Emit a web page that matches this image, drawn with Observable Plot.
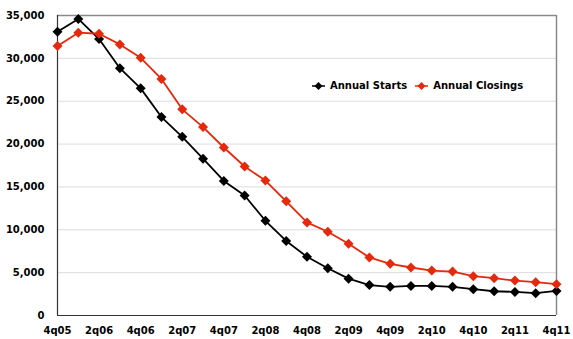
<!DOCTYPE html>
<html>
<head>
<meta charset="utf-8">
<script src="https://cdn.jsdelivr.net/npm/d3@7"></script>
<script src="https://cdn.jsdelivr.net/npm/@observablehq/plot@0.6"></script>
<style>
  html, body { margin: 0; padding: 0; background: #fff; }
  #wrap { position: relative; width: 573px; height: 339px; font-family: "DejaVu Sans", Verdana, sans-serif; }
  #legend { position: absolute; left: 312px; top: 80px; display: flex; align-items: center; font-size: 10px; font-weight: bold; color: #000; white-space: nowrap; }
  #legend .item { display: flex; align-items: center; }
  #legend svg { margin-right: 5px; }
</style>
</head>
<body>
<div id="wrap"></div>
<script>
// Quarter labels along the x axis
const quarters = [
  "4q05",
  "1q06", "2q06", "3q06", "4q06",
  "1q07", "2q07", "3q07", "4q07",
  "1q08", "2q08", "3q08", "4q08",
  "1q09", "2q09", "3q09", "4q09",
  "1q10", "2q10", "3q10", "4q10",
  "1q11", "2q11", "3q11", "4q11"
];

// Quarters that carry a tick label
const tickQuarters = ["4q05", "2q06", "4q06", "2q07", "4q07", "2q08", "4q08", "2q09", "4q09", "2q10", "4q10", "2q11", "4q11"];

// Annual starts, per quarter
const starts = [33100, 34600, 32250, 28850, 26500, 23150, 20850, 18300, 15700, 14000, 11050, 8700, 6850, 5520, 4300, 3550, 3350, 3450, 3450, 3350, 3070, 2830, 2750, 2600, 2870];

// Annual closings, per quarter
const closings = [31430, 33000, 32870, 31630, 30060, 27600, 24050, 21980, 19600, 17380, 15740, 13320, 10860, 9770, 8370, 6770, 6030, 5600, 5240, 5130, 4590, 4350, 4070, 3890, 3650];

const yTicks = [0, 5000, 10000, 15000, 20000, 25000, 30000, 35000];

const seriesNames = ["Annual Starts", "Annual Closings"];
const seriesColors = ["#000000", "#e5290c"];

const rows = [];
quarters.forEach((q, i) => {
  rows.push({ quarter: q, value: starts[i], series: seriesNames[0] });
  rows.push({ quarter: q, value: closings[i], series: seriesNames[1] });
});

const chart = Plot.plot({
  width: 573,
  height: 339,
  marginLeft: 57,
  marginRight: 17,
  marginTop: 15,
  marginBottom: 24,
  style: { fontFamily: "'DejaVu Sans', Verdana, sans-serif", fontSize: "10px", fontWeight: "bold", color: "#000", background: "#fff" },
  x: { type: "point", domain: quarters, padding: 0, round: false },
  y: { domain: [0, 35000] },
  color: { domain: seriesNames, range: seriesColors },
  marks: [
    Plot.gridY(yTicks.slice(1), { stroke: "#dcdcdc", strokeOpacity: 1, strokeWidth: 1 }),
    Plot.ruleY([35000], { stroke: "#8a8a8a", strokeWidth: 1.5 }),
    Plot.ruleX([quarters[quarters.length - 1]], { stroke: "#8a8a8a", strokeWidth: 1.5 }),
    Plot.ruleY([0], { stroke: "#333", strokeWidth: 1.2 }),
    Plot.ruleX([quarters[0]], { stroke: "#333", strokeWidth: 1.2 }),
    Plot.line(rows, { x: "quarter", y: "value", stroke: "series", z: "series", strokeWidth: 1.8 }),
    Plot.dot(rows, { x: "quarter", y: "value", fill: "series", symbol: "diamond2", r: 4.5, stroke: null }),
    Plot.axisY(yTicks, { tickSize: 0, tickPadding: 13, tickFormat: d3.format(","), label: null, fill: "#000" }),
    Plot.axisX(tickQuarters, { tickSize: 0, tickPadding: 11, label: null, fill: "#000" })
  ]
});

const wrap = document.getElementById("wrap");
wrap.appendChild(chart);

// Legend drawn over the upper right of the plot area
const legend = document.createElement("div");
legend.id = "legend";
seriesNames.forEach((name, i) => {
  const item = document.createElement("div");
  item.className = "item";
  if (i > 0) item.style.marginLeft = "8px";
  item.innerHTML =
    `<svg width="13" height="10" viewBox="0 0 13 10">` +
    `<line x1="0" y1="5" x2="13" y2="5" stroke="${seriesColors[i]}" stroke-width="1.5"/>` +
    `<path d="M6.5,1 L10.5,5 L6.5,9 L2.5,5 Z" fill="${seriesColors[i]}"/></svg>` +
    `<span>${name}</span>`;
  legend.appendChild(item);
});
wrap.appendChild(legend);
</script>
</body>
</html>
